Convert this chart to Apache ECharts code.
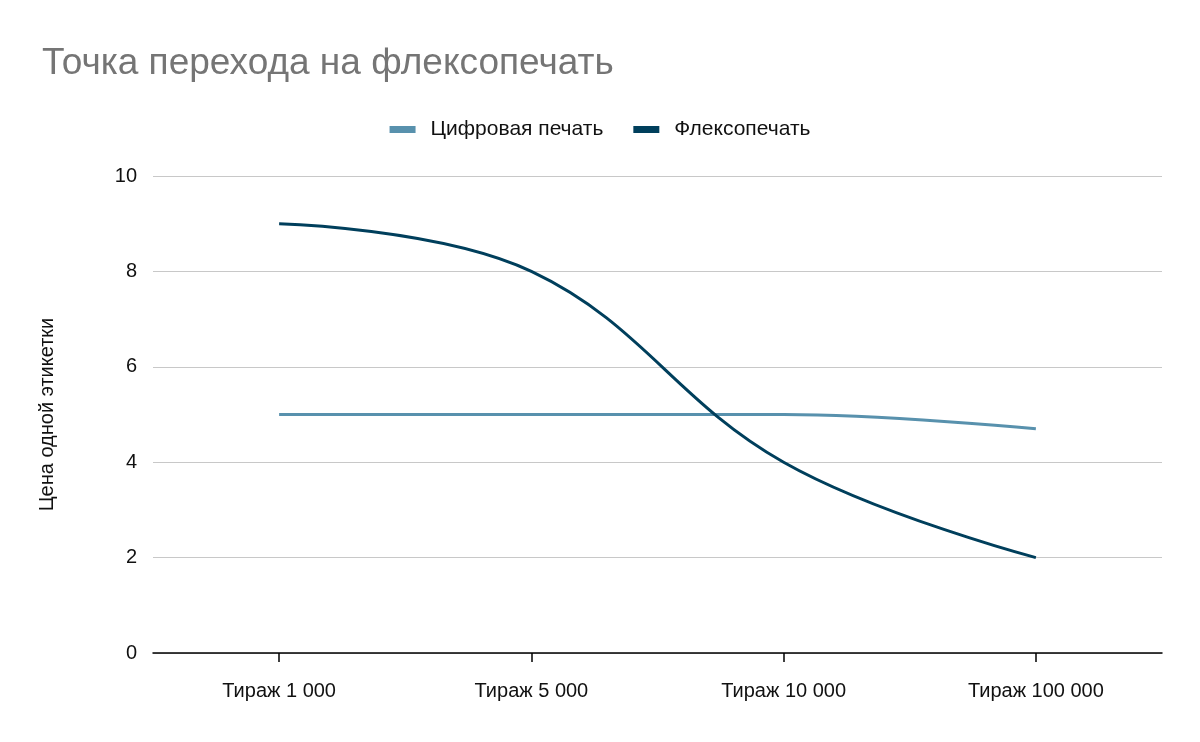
<!DOCTYPE html>
<html>
<head>
<meta charset="utf-8">
<script src="https://cdn.jsdelivr.net/npm/echarts@6/dist/echarts.min.js"></script>
<style>html,body{margin:0;padding:0;background:#fff}#main{width:1200px;height:742px}</style>
</head>
<body>
<div id="main"></div>
<script>
// данные графика
var categories = ['Тираж 1 000', 'Тираж 5 000', 'Тираж 10 000', 'Тираж 100 000'];
var digital = [5, 5, 5, 4.7];
var flexo = [9, 8, 4, 2];

var chart = echarts.init(document.getElementById('main'));
var font = 'Liberation Sans, Arial, sans-serif';
chart.setOption({
    textStyle: { fontFamily: font },
    title: {
        text: 'Точка перехода на флексопечать',
        left: 37, top: 40,
        textStyle: { fontFamily: font, fontSize: 37, fontWeight: 'normal', color: '#757575' }
    },
    legend: {
        top: 114, left: 'center',
        itemWidth: 26, itemHeight: 7, itemGap: 30,
        icon: 'rect',
        textStyle: { fontFamily: font, fontSize: 21, color: '#111', padding: [0, 0, 0, 10] },
        data: ['Цифровая печать', 'Флексопечать']
    },
    grid: { left: 153, right: 38, top: 176, bottom: 89 },
    xAxis: {
        type: 'category',
        data: categories,
        axisLine: { lineStyle: { color: '#000', width: 1.5 } },
        axisTick: { show: true, alignWithLabel: true, length: 9, lineStyle: { color: '#000', width: 1.5 } },
        axisLabel: { fontSize: 20, color: '#111', margin: 28 }
    },
    yAxis: {
        type: 'value', min: 0, max: 10, interval: 2,
        name: 'Цена одной этикетки',
        nameLocation: 'middle', nameGap: 96,
        nameTextStyle: { fontSize: 20, color: '#111' },
        axisLabel: { fontSize: 20, color: '#111', margin: 16 },
        splitLine: { lineStyle: { color: '#c8c8c8', width: 1.2 } }
    },
    series: [
        { name: 'Цифровая печать', type: 'line', data: digital, smooth: 0.4,
          symbol: 'none', lineStyle: { color: '#5891ad', width: 3 }, itemStyle: { color: '#5891ad' } },
        { name: 'Флексопечать', type: 'line', data: flexo, smooth: 0.4,
          symbol: 'none', lineStyle: { color: '#003f5c', width: 3 }, itemStyle: { color: '#003f5c' } }
    ]
});
</script>
</body>
</html>
